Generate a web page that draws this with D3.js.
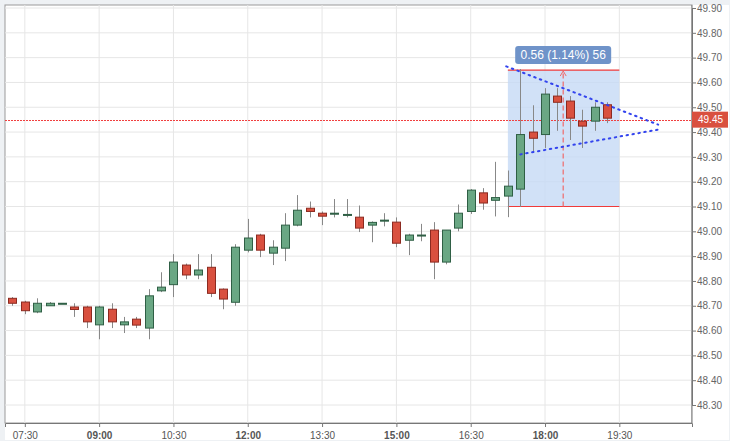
<!DOCTYPE html>
<html><head><meta charset="utf-8">
<script src="https://cdn.jsdelivr.net/npm/d3@7"></script>
<style>body{margin:0;background:#eef1f4;font-family:Arial,"Liberation Sans",sans-serif;}</style>
</head><body><div id="chart"></div>
<script>
// 15-minute candles, times as "HH:MM"
const times = ["07:15","07:30","07:45","08:00","08:15","08:30","08:45","09:00","09:15","09:30","09:45","10:00","10:15","10:30","10:45","11:00","11:15","11:30","11:45","12:00","12:15","12:30","12:45","13:00","13:15","13:30","13:45","14:00","14:15","14:30","14:45","15:00","15:15","15:30","15:45","16:00","16:15","16:30","16:45","17:00","17:15","17:30","17:45","18:00","18:15","18:30","18:45","19:00","19:15"];
const opens  = [48.73,48.715,48.675,48.70,48.71,48.695,48.695,48.623,48.686,48.623,48.646,48.61,48.76,48.785,48.864,48.824,48.855,48.767,48.714,48.924,48.985,48.912,48.932,49.025,49.093,49.073,49.073,49.065,49.057,49.025,49.045,49.037,48.964,48.985,49.005,48.876,49.013,49.08,49.155,49.125,49.142,49.17,49.40,49.39,49.545,49.525,49.444,49.444,49.51];
const closes = [48.71,48.68,48.71,48.71,48.71,48.685,48.635,48.695,48.635,48.635,48.622,48.74,48.775,48.876,48.824,48.844,48.75,48.727,48.936,48.973,48.924,48.936,49.025,49.085,49.08,49.061,49.073,49.068,49.013,49.036,49.045,48.952,48.985,48.985,48.876,49.005,49.073,49.166,49.114,49.136,49.182,49.39,49.375,49.553,49.52,49.456,49.424,49.50,49.456];
const highs  = [48.735,48.72,48.73,48.715,48.71,48.71,48.70,48.70,48.71,48.655,48.655,48.767,48.835,48.908,48.87,48.908,48.908,48.77,48.948,49.05,48.99,48.964,49.073,49.146,49.12,49.08,49.13,49.13,49.104,49.04,49.073,49.056,48.99,49.03,49.037,49.005,49.108,49.17,49.174,49.28,49.245,49.654,49.508,49.577,49.577,49.545,49.49,49.52,49.52];
const lows   = [48.70,48.666,48.67,48.70,48.71,48.655,48.61,48.565,48.61,48.59,48.61,48.565,48.755,48.735,48.807,48.807,48.735,48.686,48.70,48.915,48.896,48.864,48.88,49.02,49.056,49.025,49.056,49.056,48.997,48.956,49.02,48.936,48.904,48.96,48.807,48.867,49.0,49.07,49.087,49.06,49.057,49.098,49.316,49.336,49.405,49.368,49.336,49.405,49.436];

const yTicks = [48.30,48.40,48.50,48.60,48.70,48.80,48.90,49.00,49.10,49.20,49.30,49.40,49.50,49.60,49.70,49.80,49.90];
const xTickLabels = ["07:30","09:00","10:30","12:00","13:30","15:00","16:30","18:00","19:30"];
const boldTicks = ["09:00","12:00","15:00","18:00"];
const lastPrice = 49.45;
const measureRange = ["17:15","19:30"];
const measureValues = [49.65, 49.10];
const measureLabel = "0.56 (1.14%) 56";
const upperTrend = [["17:13",49.665],["20:17",49.43]];
const lowerTrend = [["17:30",49.31],["20:17",49.41]];

const W = 730, H = 441;
const plot = {left: 5, top: 5, right: 692, bottom: 423};
const t = s => { const [h, m] = s.split(":").map(Number); return new Date(2020, 0, 1, h, m); };

const x = d3.scaleTime().domain([t("07:06"), t("20:58")]).range([plot.left, plot.right]);
const y = d3.scaleLinear().domain([48.30, 49.90]).range([405, 8]);

const svg = d3.select("#chart").append("svg").attr("width", W).attr("height", H);
svg.append("rect").attr("x", plot.left).attr("y", plot.top).attr("width", plot.right - plot.left)
    .attr("height", plot.bottom - plot.top).attr("fill", "#fff").attr("stroke", "#999");
svg.append("rect").attr("x", plot.right).attr("y", plot.top).attr("width", W - plot.right - 1)
    .attr("height", H - plot.top - 1).attr("fill", "#fff");
svg.append("rect").attr("x", plot.left).attr("y", plot.bottom).attr("width", plot.right - plot.left)
    .attr("height", H - plot.bottom - 1).attr("fill", "#fff");

// grid
svg.append("g").selectAll("line").data(yTicks).join("line")
    .attr("x1", plot.left).attr("x2", plot.right).attr("y1", d => y(d)).attr("y2", d => y(d))
    .attr("stroke", "#e6e6e6");
svg.append("g").selectAll("line").data(xTickLabels).join("line")
    .attr("x1", d => x(t(d))).attr("x2", d => x(t(d))).attr("y1", plot.top).attr("y2", plot.bottom)
    .attr("stroke", "#e6e6e6");

// measurement box
const mx0 = x(t(measureRange[0])), mx1 = x(t(measureRange[1]));
const my0 = y(measureValues[0]), my1 = y(measureValues[1]);
svg.append("rect").attr("x", mx0).attr("y", my0).attr("width", mx1 - mx0).attr("height", my1 - my0)
    .attr("fill", "#c5d9f5").attr("opacity", 0.8);
[my0, my1].forEach(v => svg.append("line").attr("x1", mx0).attr("x2", mx1).attr("y1", v).attr("y2", v)
    .attr("stroke", "#f03a3a").attr("stroke-width", 1.2));

// last price line
const lpY = Math.round(y(lastPrice)) + 0.5;
svg.append("line").attr("x1", plot.left).attr("x2", plot.right).attr("y1", lpY).attr("y2", lpY)
    .attr("stroke", "#f04040").attr("stroke-dasharray", "2,1");

// candles
const bw = 8;
const g = svg.append("g");
times.forEach((tm, i) => {
    const cx = Math.round(x(t(tm))) + 0.5;
    const up = closes[i] >= opens[i];
    g.append("line").attr("x1", cx).attr("x2", cx).attr("y1", y(highs[i])).attr("y2", y(lows[i]))
        .attr("stroke", "#888");
    const top = y(Math.max(opens[i], closes[i])), bot = y(Math.min(opens[i], closes[i]));
    g.append("rect").attr("x", cx - bw / 2).attr("y", top).attr("width", bw).attr("height", Math.max(1, bot - top))
        .attr("fill", up ? "#6aa784" : "#d9503f").attr("stroke", up ? "#2f5f45" : "#8c2a20");
});

// measurement vertical arrow
const mxMid = x(t("18:22"));
svg.append("line").attr("x1", mxMid).attr("x2", mxMid).attr("y1", my1).attr("y2", my0 + 2)
    .attr("stroke", "#f06a6a").attr("stroke-width", 1.2).attr("stroke-dasharray", "5,3");
svg.append("path").attr("d", `M${mxMid - 3},${my0 + 6}L${mxMid},${my0 + 1}L${mxMid + 3},${my0 + 6}`)
    .attr("fill", "none").attr("stroke", "#f06a6a");

// trend lines
[upperTrend, lowerTrend].forEach(tr => svg.append("path")
    .attr("d", d3.line().x(d => x(t(d[0]))).y(d => y(d[1]))(tr))
    .attr("stroke", "#3344ee").attr("stroke-width", 2).attr("stroke-dasharray", "1.5,4.5")
    .attr("stroke-linecap", "round").attr("fill", "none"));

// measurement label
const lbl = svg.append("g").attr("transform", `translate(${mxMid},${my0 - 15})`);
lbl.append("rect").attr("x", -48).attr("y", -9).attr("width", 96).attr("height", 18).attr("rx", 3)
    .attr("fill", "#6f93c9");
lbl.append("text").attr("text-anchor", "middle").attr("dy", "0.35em").attr("fill", "#fff")
    .attr("font-size", 12).text(measureLabel);

// axes
const yAxis = svg.append("g").attr("transform", `translate(${plot.right},0)`)
    .call(d3.axisRight(y).tickValues(yTicks).tickSize(4).tickFormat(d3.format(".2f")));
yAxis.select(".domain").attr("stroke", "#777");
yAxis.selectAll("text").attr("fill", "#666").attr("font-size", 10).attr("x", 5);
yAxis.selectAll(".tick line").attr("stroke", "#777");
svg.append("line").attr("x1", plot.right).attr("x2", plot.right).attr("y1", plot.top).attr("y2", plot.bottom).attr("stroke", "#777");

const lp = svg.append("g").attr("transform", `translate(${plot.right},${y(lastPrice)})`);
lp.append("rect").attr("x", 0).attr("y", -8).attr("width", 36).attr("height", 16).attr("fill", "#d9503f");
lp.append("text").attr("x", 6).attr("dy", "0.35em").attr("fill", "#fff").attr("font-size", 10).text(lastPrice.toFixed(2));

const xAxis = svg.append("g").attr("transform", `translate(0,${plot.bottom})`)
    .call(d3.axisBottom(x).tickValues(xTickLabels.map(t)).tickSize(4).tickFormat(d3.timeFormat("%H:%M")));
xAxis.select(".domain").attr("stroke", "#777");
xAxis.selectAll(".tick line").attr("stroke", "#777");
xAxis.selectAll("text").attr("fill", "#555").attr("font-size", 10).attr("dy", "0.9em")
    .attr("font-weight", (d, i) => boldTicks.includes(xTickLabels[i]) ? "bold" : "normal");
</script></body></html>
